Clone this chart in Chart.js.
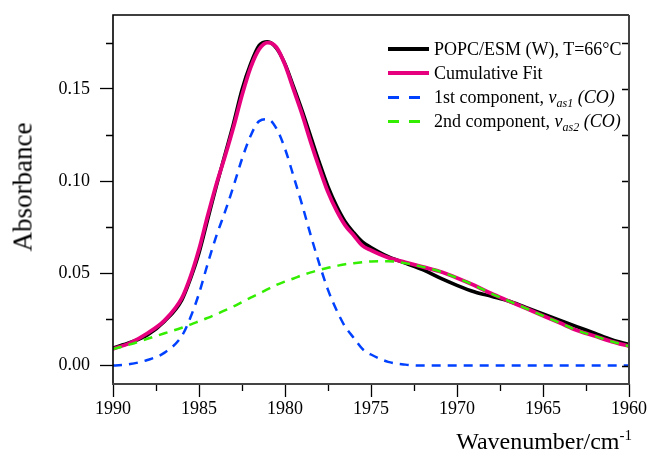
<!DOCTYPE html>
<html>
<head>
<meta charset="utf-8">
<script src="https://cdn.jsdelivr.net/npm/chart.js@4/dist/chart.umd.min.js"></script>
<style>
  html, body { margin: 0; padding: 0; background: #fff; }
  #wrap { position: relative; width: 649px; height: 460px; font-family: "Liberation Serif", "Times New Roman", serif; }
  #grafico { position: absolute; left: 0; top: 0; }
  .titulo-y { position: absolute; left: 23px; top: 187px; font-size: 27px; transform: translate(-50%, -50%) rotate(-90deg); white-space: nowrap; }
  .titulo-x { position: absolute; right: 17px; top: 428px; font-size: 24px; white-space: nowrap; }
  .titulo-x sup { font-size: 15px; vertical-align: 9px; line-height: 0; }
  #legenda { position: absolute; left: 388px; top: 37px; font-size: 18px; }
  .item { height: 24px; display: flex; align-items: center; white-space: nowrap; }
  .amostra { width: 41px; height: 4px; margin-right: 5px; }
  .item sub { font-size: 12px; vertical-align: -4px; line-height: 0; }
</style>
</head>
<body>
<div id="wrap">
  <canvas id="grafico" width="649" height="460"></canvas>
  <div class="titulo-y">Absorbance</div>
  <div class="titulo-x">Wavenumber/cm<sup>-1</sup></div>
  <div id="legenda">
    <div class="item"><span class="amostra" style="background:#000"></span>POPC/ESM (W), T=66°C</div>
    <div class="item"><span class="amostra" style="background:#e6007e"></span>Cumulative Fit</div>
    <div class="item"><span class="amostra" style="height:3px;background:repeating-linear-gradient(90deg,#0040ff 0 11px,transparent 11px 21px)"></span>1st component,&nbsp;<i>ν<sub>as1</sub> (CO)</i></div>
    <div class="item"><span class="amostra" style="height:3px;background:repeating-linear-gradient(90deg,#33ee00 0 11px,transparent 11px 21px)"></span>2nd component,&nbsp;<i>ν<sub>as2</sub> (CO)</i></div>
  </div>
</div>
<script>
const wavenumbers = [1990, 1989, 1988, 1987, 1986, 1985.5, 1985, 1984.5, 1984, 1983.5, 1983, 1982.5, 1982, 1981.5, 1981, 1980.5, 1980, 1979.5, 1979, 1978.5, 1978, 1977.5, 1977, 1976.5, 1976, 1975.5, 1975, 1974, 1973, 1972, 1971, 1970, 1969, 1968, 1967, 1966, 1965, 1964, 1963, 1962, 1961, 1960];

const medido = [0.0095, 0.0125, 0.0165, 0.024, 0.0355, 0.047, 0.061, 0.079, 0.097, 0.114, 0.131, 0.1495, 0.1635, 0.1735, 0.1755, 0.172, 0.1635, 0.151, 0.138, 0.124, 0.110, 0.097, 0.0865, 0.078, 0.072, 0.067, 0.064, 0.059, 0.0555, 0.052, 0.0475, 0.0435, 0.040, 0.0375, 0.035, 0.0315, 0.028, 0.0245, 0.021, 0.0175, 0.014, 0.0115];

const ajuste = [0.009, 0.0123, 0.0175, 0.0245, 0.0365, 0.048, 0.063, 0.081, 0.098, 0.113, 0.129, 0.1465, 0.1615, 0.1715, 0.175, 0.1725, 0.163, 0.1495, 0.136, 0.121, 0.107, 0.094, 0.084, 0.076, 0.0705, 0.065, 0.0625, 0.0585, 0.056, 0.0535, 0.051, 0.0475, 0.0435, 0.039, 0.035, 0.031, 0.027, 0.023, 0.019, 0.016, 0.013, 0.0105];

const comp1 = [0, 0.0008, 0.003, 0.007, 0.016, 0.026, 0.039, 0.055, 0.070, 0.083, 0.097, 0.112, 0.1245, 0.1325, 0.1335, 0.1285, 0.1175, 0.1025, 0.087, 0.0705, 0.055, 0.041, 0.030, 0.021, 0.015, 0.009, 0.006, 0.002, 0.0005, 0, 0, 0, 0, 0, 0, 0, 0, 0, 0, 0, 0, 0];

const comp2 = [0.009, 0.0115, 0.0145, 0.0175, 0.0205, 0.0222, 0.024, 0.0258, 0.0278, 0.0299, 0.032, 0.0344, 0.0368, 0.039, 0.0414, 0.0437, 0.0455, 0.0472, 0.049, 0.0505, 0.0518, 0.053, 0.054, 0.0549, 0.0555, 0.056, 0.0564, 0.0565, 0.0555, 0.0535, 0.051, 0.0475, 0.0435, 0.039, 0.035, 0.031, 0.027, 0.023, 0.019, 0.016, 0.013, 0.0105];

const xTicks = [1990, 1985, 1980, 1975, 1970, 1965, 1960];
const xMinor = [1987.5, 1982.5, 1977.5, 1972.5, 1967.5, 1962.5];
const yTicks = [0, 0.05, 0.10, 0.15];
const yMinor = [0.025, 0.075, 0.125, 0.175];

function pontos(valores) {
  return wavenumbers.map((x, i) => ({ x, y: valores[i] }));
}

function serie(valores, cor, largura, ordem, tracejado) {
  return {
    data: pontos(valores),
    borderColor: cor,
    borderWidth: largura,
    borderDash: tracejado || [],
    pointRadius: 0,
    fill: false,
    tension: 0.4,
    cubicInterpolationMode: "monotone",
    order: ordem
  };
}

// moldura, ticks menores e ticks internos do lado direito
const moldura = {
  id: "moldura",
  afterDraw(chart) {
    const { ctx, chartArea: a, scales } = chart;
    const sx = scales.x, sy = scales.y;
    ctx.save();
    ctx.lineWidth = 1.3;
    ctx.strokeStyle = "#000";
    ctx.beginPath();
    xMinor.forEach(v => {
      const px = Math.round(sx.getPixelForValue(v)) + 0.5;
      ctx.moveTo(px, a.bottom);
      ctx.lineTo(px, a.bottom + 7);
    });
    yMinor.forEach(v => {
      const py = Math.round(sy.getPixelForValue(v)) + 0.5;
      ctx.moveTo(a.left - 7, py);
      ctx.lineTo(a.left, py);
    });
    yTicks.concat(yMinor).forEach(v => {
      const py = Math.round(sy.getPixelForValue(v)) + 0.5;
      ctx.moveTo(a.right - 7, py);
      ctx.lineTo(a.right, py);
    });
    ctx.stroke();

    ctx.lineWidth = 1.6;
    ctx.strokeStyle = "#000";
    ctx.beginPath();
    ctx.moveTo(a.left, a.bottom);
    ctx.lineTo(a.left, a.top);
    ctx.lineTo(a.right, a.top);
    ctx.stroke();
    ctx.lineWidth = 2;
    ctx.strokeStyle = "#444";
    ctx.beginPath();
    ctx.moveTo(a.right, a.top);
    ctx.lineTo(a.right, a.bottom);
    ctx.lineTo(a.left - 1, a.bottom);
    ctx.stroke();
    ctx.restore();
  }
};

const fonteTick = { family: "'Liberation Serif', 'Times New Roman', serif", size: 18 };

new Chart(document.getElementById("grafico"), {
  type: "line",
  data: {
    datasets: [
      serie(medido, "#000000", 3.5, 3),
      serie(ajuste, "#e6007e", 3.8, 2),
      serie(comp1, "#0040ff", 2.5, 1, [9, 7]),
      serie(comp2, "#33ee00", 2.5, 0, [9, 7])
    ]
  },
  options: {
    responsive: false,
    animation: false,
    layout: { padding: { top: 15, right: 20, left: 0, bottom: 0 } },
    plugins: { legend: { display: false }, tooltip: { enabled: false } },
    scales: {
      x: {
        type: "linear",
        reverse: true,
        min: 1960,
        max: 1990,
        afterBuildTicks: s => { s.ticks = xTicks.map(v => ({ value: v })); },
        afterFit: s => { s.height = 76; s.paddingLeft = 0; s.paddingRight = 0; },
        border: { display: false },
        grid: { drawOnChartArea: false, drawTicks: true, tickLength: 13, tickColor: "#000", tickWidth: 1.3 },
        ticks: { color: "#000", font: fonteTick, padding: 1, maxRotation: 0, callback: v => String(v) }
      },
      y: {
        min: -0.01,
        max: 0.19,
        afterBuildTicks: s => { s.ticks = yTicks.map(v => ({ value: v })); },
        afterFit: s => { s.width = 113; s.paddingTop = 0; s.paddingBottom = 0; },
        border: { display: false },
        grid: { drawOnChartArea: false, drawTicks: true, tickLength: 13, tickColor: "#000", tickWidth: 1.3 },
        ticks: { color: "#000", font: fonteTick, padding: 10, callback: v => v.toFixed(2) }
      }
    }
  },
  plugins: [moldura]
});
</script>
</body>
</html>
